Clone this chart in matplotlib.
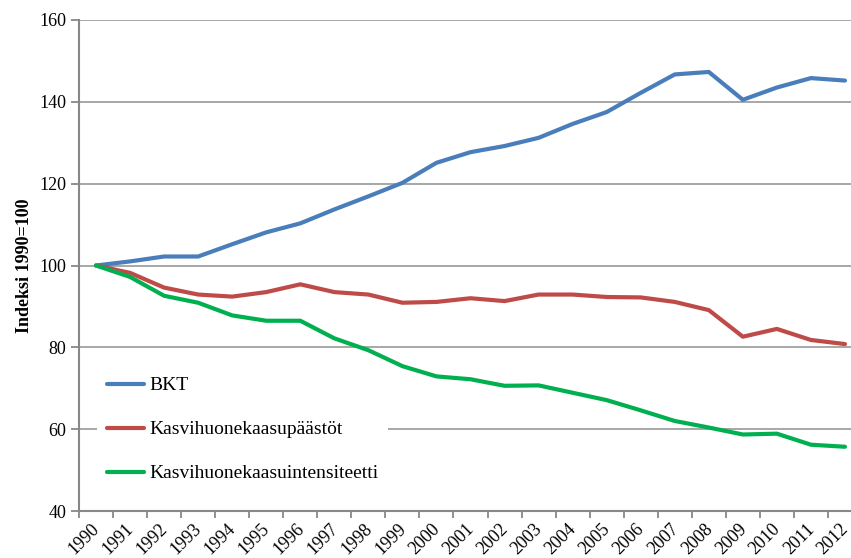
import matplotlib
matplotlib.use("Agg")
import matplotlib.pyplot as plt
import matplotlib.transforms as mtransforms
import numpy as np

years = [str(y) for y in range(1990, 2013)]
bkt = [100, 101.0, 102.2, 102.2, 105.2, 108.1, 110.3, 113.7, 116.9, 120.2, 125.1,
       127.7, 129.2, 131.2, 134.6, 137.5, 142.2, 146.7, 147.3, 140.5, 143.5, 145.8, 145.2]
paastot = [100, 98.2, 94.6, 92.9, 92.4, 93.5, 95.4, 93.5, 92.9, 90.9, 91.1,
           92.0, 91.3, 92.9, 92.9, 92.3, 92.2, 91.1, 89.1, 82.6, 84.5, 81.8, 80.8]
intensiteetti = [100, 97.2, 92.6, 90.9, 87.8, 86.5, 86.5, 82.2, 79.3, 75.4, 72.9,
                 72.2, 70.6, 70.7, 68.9, 67.1, 64.6, 62.0, 60.4, 58.7, 58.9, 56.2, 55.7]
labels = ["BKT", "Kasvihuonekaasupäästöt", "Kasvihuonekaasuintensiteetti"]
yticks = [40, 60, 80, 100, 120, 140, 160]

plt.rcParams['font.family'] = ['Liberation Serif', 'DejaVu Serif']

W, H = 851, 558
fig = plt.figure(figsize=(W / 100, H / 100), dpi=100)
ax = fig.add_axes([79 / W, 1 - 511 / H, (862 - 79) / W, (511 - 20) / H])

x = np.arange(len(years))
colors = ["#4A7EBB", "#BE4B48", "#00B050"]
for series, c, lab in zip([bkt, paastot, intensiteetti], colors, labels):
    ax.plot(x, series, color=c, lw=3.0, label=lab, solid_capstyle='round', zorder=3)

ax.set_xlim(-0.5, len(years) - 0.5)
ax.set_ylim(40, 160)
ax.set_yticks(yticks)
ax.set_yticklabels([str(v) for v in yticks], fontsize=13)
ax.yaxis.grid(True, color="#a0a0a0", lw=1.3)
ax.set_axisbelow(True)

ax.set_xticks(np.arange(len(years) + 1) - 0.5)
ax.set_xticklabels([])
ax.set_xticks(x, minor=True)
ax.set_xticklabels(years, minor=True, rotation=45, ha='right', va='top',
                   rotation_mode='anchor', fontsize=13)
ax.tick_params(axis='x', which='minor', length=0, pad=4)
ax.tick_params(axis='x', which='major', length=5, color="#888888", width=1.3)
ax.tick_params(axis='y', length=6, color="#888888", width=1.3, pad=3)
offset = mtransforms.ScaledTranslation(-5 / 100, -4 / 100, fig.dpi_scale_trans)
for lbl in ax.get_xticklabels(minor=True):
    lbl.set_transform(lbl.get_transform() + offset)

for s in ['top', 'right']:
    ax.spines[s].set_visible(False)
for s in ['left', 'bottom']:
    ax.spines[s].set_color("#888888")
    ax.spines[s].set_linewidth(1.5)

ax.set_ylabel("Indeksi 1990=100", fontsize=13, fontweight='bold', labelpad=5)

leg = ax.legend(loc='upper left', bbox_to_anchor=(97 / W, 1 - 367 / H),
                bbox_transform=fig.transFigure, frameon=True, fontsize=14,
                handlelength=1.9, handletextpad=0.3, labelspacing=1.36,
                borderpad=0.5, borderaxespad=0, fancybox=False)
leg.get_frame().set_facecolor('white')
leg.get_frame().set_edgecolor('none')
leg.get_frame().set_alpha(1)

fig.savefig("out.png", dpi=100)
